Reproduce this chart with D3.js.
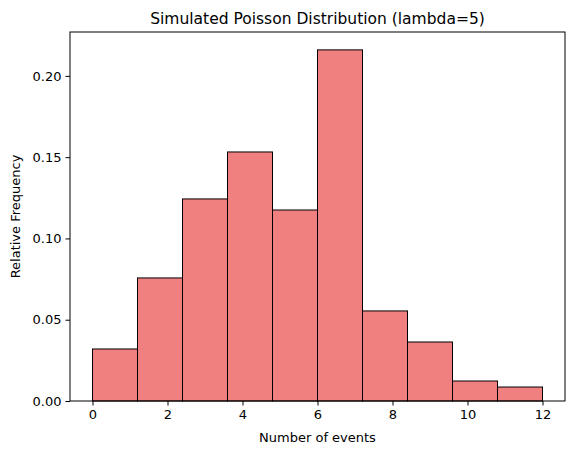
<!DOCTYPE html>
<html><head><meta charset="utf-8">
<script src="https://cdn.jsdelivr.net/npm/d3@7"></script>
<style>
body{margin:0;background:#fff;}
text{font-family:"DejaVu Sans",sans-serif;}
</style></head>
<body><svg id="chart" width="576" height="455"></svg>
<script>
// histogram bins (edges) and relative frequencies
const binEdges = [0, 1.2, 2.4, 3.6, 4.8, 6.0, 7.2, 8.4, 9.6, 10.8, 12.0];
const freqs = [0.032, 0.0757, 0.1243, 0.1532, 0.1175, 0.216, 0.0554, 0.0363, 0.0123, 0.0086];
const xTicks = [0, 2, 4, 6, 8, 10, 12];
const yTicks = [0, 0.05, 0.10, 0.15, 0.20];

const M = {left: 70, right: 11, top: 32, bottom: 54};
const W = 576, H = 455;
const svg = d3.select("#chart");

const x = d3.scaleLinear().domain([-0.6, 12.6]).range([M.left, W - M.right]);
const y = d3.scaleLinear().domain([0, 0.227]).range([H - M.bottom, M.top]);

svg.append("g").selectAll("rect")
   .data(freqs)
   .enter()
   .append("rect")
   .attr("x", (d, i) => x(binEdges[i]))
   .attr("width", (d, i) => x(binEdges[i + 1]) - x(binEdges[i]))
   .attr("y", (d) => y(d))
   .attr("height", (d) => y(0) - y(d))
   .attr("fill", "#f08080")
   .attr("stroke", "#000")
   .attr("stroke-width", 1);

var xAx = svg.append("g")
   .attr("transform", "translate(0," + (H - M.bottom) + ")")
   .call(d3.axisBottom(x).tickValues(xTicks).tickFormat(d3.format("d")).tickSize(4.5).tickPadding(4).tickSizeOuter(0));
var yAx = svg.append("g")
   .attr("transform", "translate(" + M.left + ",0)")
   .call(d3.axisLeft(y).tickValues(yTicks).tickFormat(d3.format(".2f")).tickSize(4.5).tickPadding(4).tickSizeOuter(0));
[xAx, yAx].forEach(function(a){
    a.selectAll("text").style("font-size", "13px").attr("fill", "#000");
    a.select(".domain").remove();
});

// frame
svg.append("rect")
   .attr("x", M.left).attr("y", M.top)
   .attr("width", W - M.left - M.right).attr("height", H - M.top - M.bottom)
   .attr("fill", "none").attr("stroke", "#000").attr("stroke-width", 1);

svg.append("text").attr("x", (M.left + W - M.right) / 2).attr("y", 24)
   .attr("text-anchor", "middle").style("font-size", "15.5px")
   .text("Simulated Poisson Distribution (lambda=5)");
svg.append("text").attr("x", (M.left + W - M.right) / 2).attr("y", 442)
   .attr("text-anchor", "middle").style("font-size", "13px")
   .text("Number of events");
svg.append("text").attr("transform", "translate(20," + ((M.top + H - M.bottom) / 2) + ") rotate(-90)")
   .attr("text-anchor", "middle").style("font-size", "13px")
   .text("Relative Frequency");
</script></body></html>
